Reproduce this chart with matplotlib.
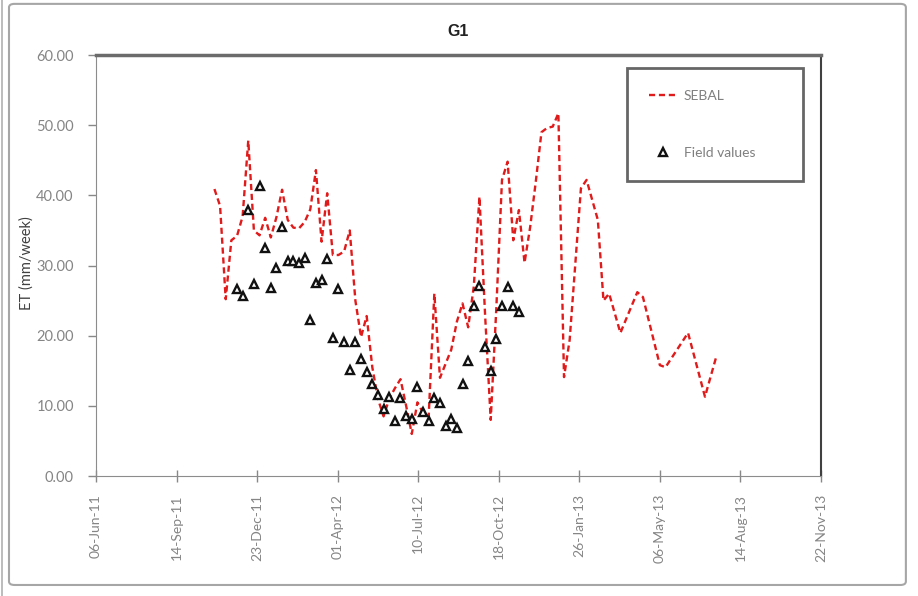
import pandas as pd
import matplotlib.pyplot as plt
import matplotlib.dates as mdates
from matplotlib.patches import FancyBboxPatch

# SEBAL weekly ET (mm/week)
sebalDates = ['2011-10-31', '2011-11-07', '2011-11-14', '2011-11-21', '2011-11-28', '2011-12-05',
              '2011-12-12', '2011-12-19', '2011-12-26', '2012-01-02', '2012-01-09', '2012-01-16',
              '2012-01-23', '2012-01-30', '2012-02-06', '2012-02-13', '2012-02-20', '2012-02-27',
              '2012-03-05', '2012-03-12', '2012-03-19', '2012-03-26', '2012-04-02', '2012-04-09',
              '2012-04-16', '2012-04-23', '2012-04-30', '2012-05-07', '2012-05-14', '2012-05-21',
              '2012-05-28', '2012-06-04', '2012-06-11', '2012-06-18', '2012-06-25', '2012-07-02',
              '2012-07-09', '2012-07-16', '2012-07-23', '2012-07-30', '2012-08-06', '2012-08-13',
              '2012-08-20', '2012-08-27', '2012-09-03', '2012-09-10', '2012-09-17', '2012-09-24',
              '2012-10-01', '2012-10-08', '2012-10-15', '2012-10-22', '2012-10-29', '2012-11-05',
              '2012-11-12', '2012-11-19', '2012-11-26', '2012-12-03', '2012-12-10', '2012-12-17',
              '2012-12-24', '2012-12-31', '2013-01-07', '2013-01-14', '2013-01-28', '2013-02-04',
              '2013-02-18', '2013-02-25', '2013-03-04', '2013-03-18', '2013-04-08', '2013-04-15',
              '2013-05-06', '2013-05-13', '2013-06-10', '2013-07-01', '2013-07-15']
sebalVals = [40.9, 38.5, 25.2, 33.6, 34.2, 37.0, 47.8, 35.0, 34.3, 36.8,
             34.0, 36.9, 40.8, 36.5, 35.4, 35.3, 36.2, 38.0, 43.6, 33.4,
             40.3, 31.5, 31.5, 32.0, 35.0, 25.0, 19.8, 22.8, 15.5, 11.0,
             8.5, 11.0, 12.5, 13.8, 10.0, 6.0, 10.5, 9.0, 8.5, 26.0,
             14.0, 16.0, 18.0, 22.0, 24.6, 21.2, 27.0, 39.8, 23.0, 8.0,
             24.0, 42.2, 44.8, 33.6, 37.9, 30.4, 35.5, 42.0, 49.0, 49.6,
             49.8, 51.7, 14.1, 19.4, 41.0, 42.2, 36.5, 25.0, 26.0, 20.4,
             26.2, 25.5, 15.8, 15.5, 20.4, 11.3, 17.0]

# field measurements, one per week
fieldStart = '2011-11-28'
fieldVals = [26.6, 25.6, 37.9, 27.4, 41.3, 32.5, 26.8, 29.6, 35.5, 30.6,
             30.6, 30.3, 31.1, 22.2, 27.5, 27.9, 30.9, 19.7, 26.6, 19.1,
             15.1, 19.1, 16.7, 14.8, 13.1, 11.5, 9.5, 11.3, 7.8, 11.1,
             8.6, 8.1, 12.7, 9.1, 7.8, 11.1, 10.4, 7.1, 8.1, 6.8,
             13.1, 16.4, 24.2, 27.1, 18.4, 15.0, 19.5, 24.2, 26.9, 24.2,
             23.4]

xStart = '2011-06-06'
xEnd = '2013-11-22'

plt.rcParams['font.family'] = ['Lato', 'DejaVu Sans']

sebalDf = pd.DataFrame({'Date': pd.to_datetime(sebalDates), 'val': sebalVals})
fieldDf = pd.DataFrame({'Date': pd.date_range(fieldStart, periods=len(fieldVals), freq='7D'),
                        'val': fieldVals})

fig = plt.figure(figsize=(9.18, 5.96), dpi=100)
ax = fig.add_axes([0.1046, 0.2013, 0.7897, 0.7064])

# chart outer border
fig.patches.append(FancyBboxPatch((0.0098, 0.0185), 0.977, 0.975,
                                  boxstyle='round,pad=0,rounding_size=0.006',
                                  transform=fig.transFigure, facecolor='none',
                                  edgecolor='#a6a6a6', linewidth=1.5))
fig.lines.append(plt.Line2D([0.0025, 0.0025], [0, 1], transform=fig.transFigure,
                            color='#b0b0b0', linewidth=1.2))

ax.plot(sebalDf['Date'], sebalDf['val'], color='#e01b1b', linestyle='--',
        dashes=(2.6, 1.6), linewidth=1.7, label='SEBAL')
ax.plot(fieldDf['Date'], fieldDf['val'], linestyle='none', marker='^', markersize=6.2,
        markerfacecolor='white', markeredgecolor='#111111', markeredgewidth=1.7,
        label='Field values')

ax.set_title('G1', fontsize=11.5, fontweight='bold', family='Liberation Sans',
             color='#222222', pad=14)
ax.set_ylabel('ET (mm/week)', fontsize=10.5, color='#404040')
ax.yaxis.set_label_coords(-0.0855, 0.506)

ax.set_ylim(0, 60)
ax.set_yticks(range(0, 61, 10))
ax.yaxis.set_major_formatter(plt.FormatStrFormatter('%.2f'))
ax.set_xlim(pd.Timestamp(xStart), pd.Timestamp(xEnd))
ax.xaxis.set_major_locator(plt.FixedLocator(
    mdates.date2num(pd.date_range(xStart, periods=10, freq='100D'))))
ax.xaxis.set_major_formatter(mdates.DateFormatter('%d-%b-%y'))
plt.setp(ax.get_xticklabels(), rotation=90)

ax.tick_params(axis='y', direction='out', length=6, width=1, color='#888888',
               labelcolor='#858585', labelsize=10.5, pad=10)
ax.tick_params(axis='x', direction='inout', length=8, width=1, color='#888888',
               labelcolor='#858585', labelsize=10, pad=9)

ax.spines['left'].set_color('#8c8c8c')
ax.spines['bottom'].set_color('#8c8c8c')
ax.spines['top'].set_color('#6b6b6b')
ax.spines['top'].set_linewidth(2.5)
ax.spines['right'].set_color('#404040')
ax.spines['right'].set_linewidth(1.5)

leg = ax.legend(loc='upper left', bbox_to_anchor=(0.7324, 0.703, 0.2428, 0.266),
                mode='expand', fontsize=10, frameon=True, fancybox=False,
                borderpad=1.6, labelspacing=3.2, handlelength=2.0,
                handletextpad=0.5, borderaxespad=0.)
leg.get_frame().set_edgecolor('#404040')
leg.get_frame().set_linewidth(2)
for t in leg.get_texts():
    t.set_color('#7f7f7f')

fig.savefig('out.png', dpi=100)
